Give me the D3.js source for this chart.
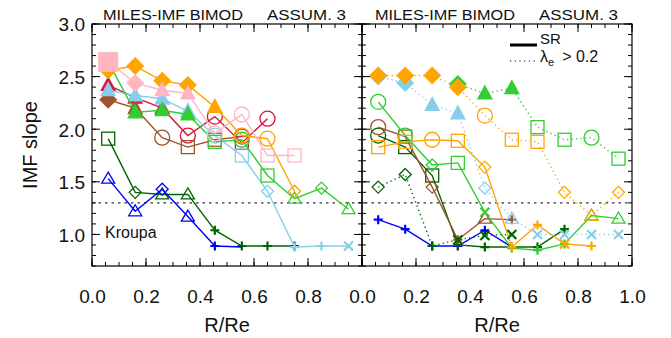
<!DOCTYPE html>
<html><head><meta charset="utf-8">
<script src="https://cdn.jsdelivr.net/npm/d3@7"></script>
<style>body{margin:0;background:#fff}svg{display:block}text{font-family:"Liberation Sans",Arial,sans-serif;fill:#111}</style>
</head><body>
<svg id="c" width="671" height="338"></svg>
<script>
// ---------------- data ----------------
const radii = [0.06,0.16,0.26,0.355,0.455,0.555,0.65,0.75,0.85,0.95];
const xTickLabelsLeft = [0.0,0.2,0.4,0.6,0.8];
const xTickLabelsRight = [0.0,0.2,0.4,0.6,0.8,1.0];
const yTickLabels = [1.0,1.5,2.0,2.5,3.0];
const kroupaSlope = 1.3;
const titleLeftPart = "MILES-IMF BIMOD";
const titleRightPart = "ASSUM. 3";
const legendLabels = ["SR", "> 0.2"];

// left panel (solid lines)
const L_darkgreen = [1.91,1.40,1.38,1.38,1.04,0.89,0.89,0.89];
const L_darkgreenSym = ["OS","OD","OT","OT","P","P","P","P"];
const L_blue = [1.53,1.22,1.43,1.17,0.89,0.88];
const L_blueSym = ["OT","OT","OD","OT","P",""];
const L_crimson = [2.42,2.30,2.20,1.94,2.12,1.87,2.10];
const L_crimsonSym = ["FT","FT","FT","OC","OC","OS","OC"];
const L_sienna = [2.28,2.20,1.92,1.83,1.90,1.93];
const L_siennaSym = ["FD","FT","OC","OS","OS","OC"];
const L_skyblue = [2.37,2.32,2.29,2.17,1.94,1.75,1.41,0.88,0.89,0.89];
const L_skyblueSym = ["FT","FT","FT","FT","OC","OS","OD","P","P","X"];
const L_lime = [2.64,2.16,2.18,2.14,1.88,1.90,1.56,1.34,1.44,1.24];
const L_limeSym = ["FD","FT","FT","FT","OS","OC","OS","OT","OD","OT"];
const L_orange = [2.56,2.60,2.46,2.42,2.21,1.94,1.91,1.41];
const L_orangeSym = ["FD","FD","FD","FD","FT","OC","OC","OD"];
const L_pink = [2.64,2.44,2.37,2.34,1.96,2.14,1.75,1.75];
const L_pinkSym = ["FS","FD","FT","FT","OC","OC","OS","OS"];

// right panel, SR (solid lines)
const R_blue = [1.14,1.05,0.89,0.89,1.04,0.88];
const R_blueSym = ["P","P","P","P","P",""];
const R_darkgreen = [1.94,1.83,1.56,0.90,0.88,0.88,0.88,1.05];
const R_darkgreenSym = ["OC","OS","OS","P","P","P","P","P"];
const R_sienna = [2.02,1.93,1.45,0.95,1.15,1.14];
const R_siennaSym = ["OC","OS","OD","P","OT","P"];
const R_lime = [2.26,1.94,1.66,1.68,1.21,0.87,0.85,0.91,1.18,1.15];
const R_limeSym = ["OC","OC","OD","OS","X","P","P","P","OT","OT"];
const R_orange = [1.83,1.88,1.90,1.89,1.64,0.88,1.09,0.91,0.89];
const R_orangeSym = ["OS","OS","OC","OS","OD","P","P","X","P"];
// right panel, lambda_e > 0.2 (dotted lines)
const D_darkgreen = [1.45,1.57,0.89,0.95,0.99,1.00];
const D_darkgreenSym = ["OD","OD","P","X","X","X"];
const D_skyblue = [2.50,2.44,2.23,2.15,1.44,1.15,1.00,1.00,1.00,1.00];
const D_skyblueSym = ["FD","FD","FT","FT","OD","OT","X","X","X","X"];
const D_lime = [null,null,null,2.43,2.34,2.39,2.02,1.90,1.92,1.72];
const D_limeSym = ["","","","FD","FT","FT","OS","OS","OC","OS"];
const D_orange = [2.51,2.51,2.51,2.40,2.13,1.90,1.88,1.40,1.18,1.40];
const D_orangeSym = ["FD","FD","FD","FD","OC","OS","OS","OD","OT","OD"];

// ---------------- styles ----------------
const COLOR = {orange:"#FFA500", pink:"#FFB6C1", crimson:"#DC143C", skyblue:"#87CEEB",
  lime:"#32CD32", sienna:"#A0522D", darkgreen:"#006400", blue:"#0000FF"};

const leftSeries = [
  ["darkgreen", L_darkgreen, L_darkgreenSym],
  ["blue", L_blue, L_blueSym],
  ["crimson", L_crimson, L_crimsonSym],
  ["sienna", L_sienna, L_siennaSym],
  ["skyblue", L_skyblue, L_skyblueSym],
  ["lime", L_lime, L_limeSym],
  ["orange", L_orange, L_orangeSym],
  ["pink", L_pink, L_pinkSym]
];
const rightSeries = [
  ["blue", R_blue, R_blueSym, false],
  ["darkgreen", R_darkgreen, R_darkgreenSym, false],
  ["sienna", R_sienna, R_siennaSym, false],
  ["lime", R_lime, R_limeSym, false],
  ["orange", R_orange, R_orangeSym, false],
  ["darkgreen", D_darkgreen, D_darkgreenSym, true],
  ["skyblue", D_skyblue, D_skyblueSym, true],
  ["lime", D_lime, D_limeSym, true],
  ["orange", D_orange, D_orangeSym, true]
];

const svg = d3.select("#c");
const X0 = 92, XM = 362, X1 = 632, YT = 24, YB = 266;
const xL = d3.scaleLinear().domain([0,1]).range([X0, XM]);
const xR = d3.scaleLinear().domain([0,1]).range([XM, X1]);
const y = d3.scaleLinear().domain([0.7,3.0]).range([YB, YT]);

function drawMarker(g, sym, cx, cy, col) {
  const sw = 1.3;
  switch (sym) {
    case "FS": g.append("rect").attr("x",cx-10).attr("y",cy-10).attr("width",20).attr("height",20).attr("fill",col); break;
    case "FD": g.append("path").attr("d",`M${cx},${cy-9}L${cx+9},${cy}L${cx},${cy+9}L${cx-9},${cy}Z`).attr("fill",col); break;
    case "FT": g.append("path").attr("d",`M${cx},${cy-9}L${cx+8},${cy+6}L${cx-8},${cy+6}Z`).attr("fill",col); break;
    case "OC": g.append("circle").attr("cx",cx).attr("cy",cy).attr("r",7.5).attr("fill","none").attr("stroke",col).attr("stroke-width",sw); break;
    case "OS": g.append("rect").attr("x",cx-6.5).attr("y",cy-6.5).attr("width",13).attr("height",13).attr("fill","none").attr("stroke",col).attr("stroke-width",sw); break;
    case "OD": g.append("path").attr("d",`M${cx},${cy-6}L${cx+6},${cy}L${cx},${cy+6}L${cx-6},${cy}Z`).attr("fill","none").attr("stroke",col).attr("stroke-width",sw); break;
    case "OT": g.append("path").attr("d",`M${cx},${cy-6.5}L${cx+6.5},${cy+4.5}L${cx-6.5},${cy+4.5}Z`).attr("fill","none").attr("stroke",col).attr("stroke-width",sw); break;
    case "P": g.append("path").attr("d",`M${cx-4.5},${cy}L${cx+4.5},${cy}M${cx},${cy-4.5}L${cx},${cy+4.5}`).attr("stroke",col).attr("stroke-width",2.2); break;
    case "X": g.append("path").attr("d",`M${cx-4.5},${cy-4.5}L${cx+4.5},${cy+4.5}M${cx-4.5},${cy+4.5}L${cx+4.5},${cy-4.5}`).attr("stroke",col).attr("stroke-width",2.2); break;
  }
}

function drawSeries(x, list) {
  const g = svg.append("g");
  list.forEach(([c, vals, syms, dotted]) => {
    const pts = vals.map((v,i)=>({r:radii[i], v, s:syms[i]})).filter(d=>d.v!=null);
    const line = d3.line().x(d=>x(d.r)).y(d=>y(d.v));
    g.append("path").attr("d", line(pts)).attr("fill","none").attr("stroke",COLOR[c])
      .attr("stroke-width",1.4).attr("stroke-dasharray", dotted ? "1.3 3.2" : null);
    pts.forEach(d => drawMarker(g, d.s, x(d.r), y(d.v), COLOR[c]));
  });
}

// Kroupa reference line
svg.append("line").attr("x1",X0).attr("x2",X1).attr("y1",y(kroupaSlope)).attr("y2",y(kroupaSlope))
  .attr("stroke","#333").attr("stroke-width",1.3).attr("stroke-dasharray","2.5 4");

drawSeries(xL, leftSeries);
drawSeries(xR, rightSeries);

// axes / frame
function frameAxes(x, x0, x1, labels, showYLabels) {
  const g = svg.append("g");
  const xMajor = d3.range(0, 1.0001, 0.2), xMinor = d3.range(0, 1.0001, 0.05);
  const yMajor = d3.range(1.0, 3.0001, 0.5), yMinor = d3.range(0.7, 3.0001, 0.1);
  const tk = (arr, len, fn) => arr.forEach(v => fn(v, len));
  const stroke = "#000";
  tk(xMinor, 4, (v,l)=>{ g.append("line").attr("x1",x(v)).attr("x2",x(v)).attr("y1",YB).attr("y2",YB-l).attr("stroke",stroke);
                          g.append("line").attr("x1",x(v)).attr("x2",x(v)).attr("y1",YT).attr("y2",YT+l).attr("stroke",stroke); });
  tk(xMajor, 8, (v,l)=>{ g.append("line").attr("x1",x(v)).attr("x2",x(v)).attr("y1",YB).attr("y2",YB-l).attr("stroke",stroke);
                          g.append("line").attr("x1",x(v)).attr("x2",x(v)).attr("y1",YT).attr("y2",YT+l).attr("stroke",stroke); });
  tk(yMinor, 4, (v,l)=>{ g.append("line").attr("x1",x0).attr("x2",x0+l).attr("y1",y(v)).attr("y2",y(v)).attr("stroke",stroke);
                          g.append("line").attr("x1",x1).attr("x2",x1-l).attr("y1",y(v)).attr("y2",y(v)).attr("stroke",stroke); });
  tk(yMajor, 8, (v,l)=>{ g.append("line").attr("x1",x0).attr("x2",x0+l).attr("y1",y(v)).attr("y2",y(v)).attr("stroke",stroke);
                          g.append("line").attr("x1",x1).attr("x2",x1-l).attr("y1",y(v)).attr("y2",y(v)).attr("stroke",stroke); });
  g.append("rect").attr("x",x0).attr("y",YT).attr("width",x1-x0).attr("height",YB-YT)
    .attr("fill","none").attr("stroke",stroke).attr("stroke-width",1.2);
  const ax = d3.axisBottom(x).tickValues(labels).tickFormat(d3.format(".1f")).tickSize(0).tickPadding(0);
  const ag = svg.append("g").attr("transform",`translate(0,${YB+37})`).call(ax);
  ag.select(".domain").remove();
  ag.selectAll("text").attr("font-size",19).attr("dy",0).attr("fill","#111").attr("font-family","Liberation Sans");
  if (showYLabels) {
    const ay = d3.axisLeft(y).tickValues(yTickLabels).tickFormat(d3.format(".1f")).tickSize(0).tickPadding(0);
    const yg = svg.append("g").attr("transform",`translate(${x0-7},0)`).call(ay);
    yg.select(".domain").remove();
    yg.selectAll("text").attr("font-size",19).attr("dy","0.36em").attr("fill","#111").attr("font-family","Liberation Sans");
  }
}
frameAxes(xL, X0, XM, xTickLabelsLeft, true);
frameAxes(xR, XM, X1, xTickLabelsRight, false);

// titles
function title(cx) {
  svg.append("text").attr("x",cx-118).attr("y",20).attr("font-size",14.5).attr("textLength",140).attr("lengthAdjust","spacingAndGlyphs").text(titleLeftPart);
  svg.append("text").attr("x",cx+46).attr("y",20).attr("font-size",14.5).attr("textLength",79).attr("lengthAdjust","spacingAndGlyphs").text(titleRightPart);
}
title(221); title(493);

// axis titles
svg.append("text").attr("transform",`translate(37,${(YT+YB)/2}) rotate(-90)`).attr("text-anchor","middle").attr("font-size",20).text("IMF slope");
svg.append("text").attr("x",(X0+XM)/2).attr("y",332).attr("text-anchor","middle").attr("font-size",20).text("R/Re");
svg.append("text").attr("x",(XM+X1)/2).attr("y",332).attr("text-anchor","middle").attr("font-size",20).text("R/Re");

// Kroupa label
svg.append("text").attr("x",105).attr("y",238).attr("font-size",16).text("Kroupa");

// legend
svg.append("line").attr("x1",510).attr("x2",537).attr("y1",45).attr("y2",45).attr("stroke","#000").attr("stroke-width",3);
svg.append("text").attr("x",540).attr("y",44).attr("font-size",15).text(legendLabels[0]);
svg.append("line").attr("x1",510).attr("x2",537).attr("y1",61).attr("y2",61).attr("stroke","#000").attr("stroke-width",1.2).attr("stroke-dasharray","1.2 3.5");
const lt = svg.append("text").attr("x",540).attr("y",62).attr("font-size",16);
lt.append("tspan").text("λ");
lt.append("tspan").attr("font-size",11).attr("dy",4).text("e");
lt.append("tspan").attr("dy",-4).attr("dx",8).text(legendLabels[1]);
</script>
</body></html>
